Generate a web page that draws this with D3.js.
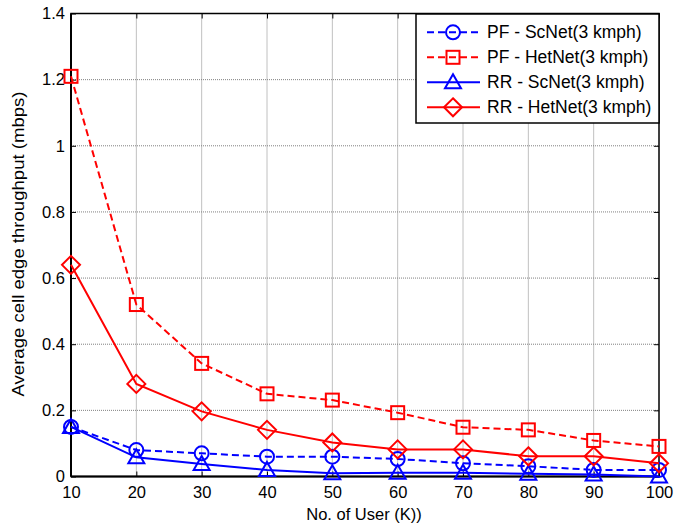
<!DOCTYPE html>
<html>
<head>
<meta charset="utf-8">
<script src="https://cdn.jsdelivr.net/npm/d3@7"></script>
<style>
  body { margin: 0; background: #fff; }
  text { font-family: "Liberation Sans", Arial, sans-serif; fill: #000; }
</style>
</head>
<body>
<svg id="chart" width="686" height="527"></svg>
<script>
const users = [10, 20, 30, 40, 50, 60, 70, 80, 90, 100];
const pfScNet = [0.15, 0.08, 0.07, 0.06, 0.06, 0.053, 0.04, 0.031, 0.02, 0.02];
const pfHetNet = [1.21, 0.52, 0.342, 0.25, 0.231, 0.193, 0.149, 0.141, 0.109, 0.091];
const rrScNet = [0.15, 0.058, 0.038, 0.02, 0.01, 0.011, 0.011, 0.008, 0.006, 0.0];
const rrHetNet = [0.64, 0.28, 0.197, 0.141, 0.103, 0.082, 0.082, 0.061, 0.061, 0.04];
const yTicks = [0, 0.2, 0.4, 0.6, 0.8, 1, 1.2, 1.4];
const seriesNames = ["PF - ScNet(3 kmph)", "PF - HetNet(3 kmph)", "RR - ScNet(3 kmph)", "RR - HetNet(3 kmph)"];

const series = [
    { name: seriesNames[0], values: pfScNet, color: "#0000ff", dashed: true, marker: "circle" },
    { name: seriesNames[1], values: pfHetNet, color: "#ff0000", dashed: true, marker: "square" },
    { name: seriesNames[2], values: rrScNet, color: "#0000ff", dashed: false, marker: "triangle" },
    { name: seriesNames[3], values: rrHetNet, color: "#ff0000", dashed: false, marker: "diamond" }
];

const svg = d3.select("#chart");
const pLeft = 71, pRight = 659, pTop = 13.5, pBottom = 476.5;

const x = d3.scaleLinear().domain([10, 100]).range([pLeft, pRight]);
const y = d3.scaleLinear().domain([0, 1.4]).range([pBottom, pTop]);

// grid
const grid = svg.append("g");
grid.selectAll("line.vx").data(users.slice(1, -1)).enter().append("line")
    .attr("x1", d => x(d)).attr("x2", d => x(d))
    .attr("y1", pTop).attr("y2", pBottom)
    .attr("stroke", "#808080").attr("stroke-width", 1).attr("stroke-dasharray", "1,1");
grid.selectAll("line.hy").data(yTicks.slice(1, -1)).enter().append("line")
    .attr("y1", d => y(d)).attr("y2", d => y(d))
    .attr("x1", pLeft).attr("x2", pRight)
    .attr("stroke", "#808080").attr("stroke-width", 1).attr("stroke-dasharray", "1,1");

// axes
const xAxis = d3.axisBottom(x).tickValues(users).tickSize(-5).tickPadding(10).tickFormat(d3.format("d"));
const yAxis = d3.axisLeft(y).tickValues(yTicks).tickSize(-5).tickPadding(6).tickFormat(d => d3.format("")(d));
const xTop = d3.axisTop(x).tickValues(users).tickSize(-5).tickFormat("");
const yRight = d3.axisRight(y).tickValues(yTicks).tickSize(-5).tickFormat("");

const gx = svg.append("g").attr("transform", `translate(0,${pBottom})`).call(xAxis);
const gy = svg.append("g").attr("transform", `translate(${pLeft},0)`).call(yAxis);
svg.append("g").attr("transform", `translate(0,${pTop})`).call(xTop);
svg.append("g").attr("transform", `translate(${pRight},0)`).call(yRight);

svg.selectAll(".domain").remove();
svg.selectAll(".tick line").attr("stroke", "#000").attr("stroke-width", 1);
gx.selectAll("text").style("font-size", "16.5px").attr("fill", "#000");
gy.selectAll("text").style("font-size", "16.5px").attr("fill", "#000");

svg.append("rect")
    .attr("x", pLeft).attr("y", pTop)
    .attr("width", pRight - pLeft).attr("height", pBottom - pTop)
    .attr("fill", "none").attr("stroke", "#000").attr("stroke-width", 1.5);
svg.append("line").attr("x1", pLeft).attr("x2", pLeft).attr("y1", pTop).attr("y2", pBottom)
    .attr("stroke", "#000").attr("stroke-width", 2);
svg.append("line").attr("x1", pLeft).attr("x2", pRight).attr("y1", pBottom).attr("y2", pBottom)
    .attr("stroke", "#000").attr("stroke-width", 2);

// labels
svg.append("text")
    .attr("x", 364).attr("y", 520)
    .attr("text-anchor", "middle").style("font-size", "16.5px")
    .text("No. of User (K))");
svg.append("text")
    .attr("transform", `translate(24,244) rotate(-90)`)
    .attr("text-anchor", "middle").style("font-size", "16px")
    .attr("textLength", 305).attr("lengthAdjust", "spacingAndGlyphs")
    .text("Average cell edge throughput (mbps)");

function drawMarker(g, type, cx, cy, color) {
    if (type === "circle") {
        g.append("circle").attr("cx", cx).attr("cy", cy).attr("r", 7)
            .attr("fill", "none").attr("stroke", color).attr("stroke-width", 2);
    } else if (type === "square") {
        g.append("rect").attr("x", cx - 6.5).attr("y", cy - 6.5).attr("width", 13).attr("height", 13)
            .attr("fill", "none").attr("stroke", color).attr("stroke-width", 2);
    } else if (type === "triangle") {
        g.append("path").attr("d", `M${cx},${cy - 8}L${cx + 8},${cy + 6}L${cx - 8},${cy + 6}Z`)
            .attr("fill", "none").attr("stroke", color).attr("stroke-width", 2);
    } else if (type === "diamond") {
        g.append("path").attr("d", `M${cx},${cy - 9}L${cx + 9},${cy}L${cx},${cy + 9}L${cx - 9},${cy}Z`)
            .attr("fill", "none").attr("stroke", color).attr("stroke-width", 2);
    }
}

const line = d3.line().x((d, i) => x(users[i])).y(d => y(d));

const plot = svg.append("g");
series.forEach(s => {
    plot.append("path")
        .datum(s.values)
        .attr("d", line)
        .attr("fill", "none")
        .attr("stroke", s.color)
        .attr("stroke-width", 2)
        .attr("stroke-dasharray", s.dashed ? "7,4" : null);
    const mg = plot.append("g");
    s.values.forEach((v, i) => drawMarker(mg, s.marker, x(users[i]), y(v), s.color));
});

// legend
const lg = svg.append("g");
lg.append("rect")
    .attr("x", 416).attr("y", 14).attr("width", pRight - 416).attr("height", 109)
    .attr("fill", "#fff").attr("stroke", "#000").attr("stroke-width", 1.5);
series.forEach((s, i) => {
    const ry = 32.3 + i * 25;
    lg.append("line").attr("x1", 427).attr("x2", 480).attr("y1", ry).attr("y2", ry)
        .attr("stroke", s.color).attr("stroke-width", 2)
        .attr("stroke-dasharray", s.dashed ? "7,4" : null);
    drawMarker(lg, s.marker, 453, ry, s.color);
    lg.append("text").attr("x", 487).attr("y", ry + 6).style("font-size", "17.5px").text(s.name);
});
</script>
</body>
</html>
